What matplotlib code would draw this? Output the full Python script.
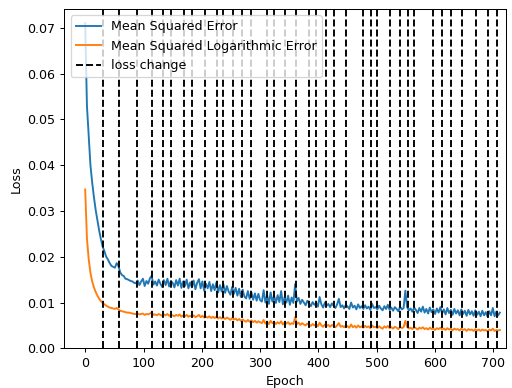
import numpy as np
import matplotlib
matplotlib.use("Agg")
import matplotlib.pyplot as plt

epochs = np.arange(0, 712, 3)

mse = [
    .0710, .0530, .0465, .0400, .0362, .0330, .0302, .0280, .0257, .0238,
    .0222, .0212, .0200, .0194, .0186, .0180, .0178, .0176, .0186, .0180,
    .0166, .0160, .0158, .0152, .0151, .0149, .0147, .0146, .0143, .0142,
    .0148, .0138, .0146, .0152, .0136, .0147, .0141, .0153, .0158, .0139,
    .0146, .0137, .0150, .0141, .0134, .0149, .0138, .0152, .0135, .0147,
    .0143, .0133, .0149, .0137, .0152, .0132, .0146, .0136, .0150, .0131,
    .0144, .0133, .0148, .0129, .0143, .0151, .0131, .0146, .0126, .0141,
    .0131, .0145, .0125, .0140, .0127, .0144, .0122, .0138, .0124, .0140,
    .0121, .0136, .0124, .0117, .0134, .0119, .0132, .0115, .0130, .0112,
    .0128, .0113, .0109, .0125, .0108, .0122, .0106, .0120, .0104, .0119,
    .0105, .0102, .0127, .0100, .0116, .0097, .0122, .0102, .0114, .0099,
    .0116, .0101, .0125, .0096, .0112, .0100, .0115, .0095, .0111, .0099,
    .0140, .0102, .0110, .0097, .0106, .0100, .0094, .0104, .0098, .0092,
    .0101, .0095, .0099, .0091, .0112, .0096, .0089, .0100, .0093, .0097,
    .0090, .0098, .0093, .0088, .0096, .0108, .0090, .0094, .0087, .0095,
    .0091, .0086, .0100, .0089, .0093, .0085, .0096, .0088, .0092, .0086,
    .0094, .0087, .0091, .0084, .0097, .0088, .0090, .0085, .0093, .0087,
    .0083, .0092, .0086, .0095, .0084, .0089, .0082, .0090, .0086, .0081,
    .0091, .0085, .0088, .0126, .0090, .0083, .0087, .0080, .0089, .0084,
    .0077, .0088, .0080, .0091, .0078, .0086, .0076, .0089, .0079, .0085,
    .0075, .0087, .0078, .0090, .0076, .0085, .0074, .0088, .0077, .0084,
    .0073, .0086, .0076, .0083, .0072, .0085, .0075, .0082, .0071, .0084,
    .0074, .0081, .0071, .0083, .0073, .0080, .0070, .0082, .0072, .0079,
    .0069, .0081, .0072, .0088, .0070, .0080, .0072, .0078,
]

msle = [
    .0347, .0240, .0195, .0165, .0146, .0133, .0123, .0115, .0108, .0103,
    .0099, .0096, .0093, .0091, .0089, .0088, .0087, .0086, .0088, .0085,
    .0082, .0081, .0080, .0079, .0078, .0078, .0077, .0076, .0075, .0075,
    .0076, .0074, .0075, .0076, .0073, .0075, .0074, .0076, .0078, .0073,
    .0074, .0072, .0075, .0073, .0071, .0074, .0072, .0075, .0071, .0073,
    .0072, .0070, .0073, .0071, .0074, .0069, .0072, .0070, .0073, .0069,
    .0071, .0069, .0072, .0068, .0070, .0073, .0068, .0071, .0067, .0069,
    .0067, .0070, .0066, .0069, .0066, .0069, .0065, .0068, .0065, .0067,
    .0064, .0067, .0065, .0062, .0066, .0063, .0065, .0061, .0064, .0060,
    .0063, .0060, .0058, .0062, .0058, .0061, .0057, .0060, .0056, .0059,
    .0057, .0055, .0062, .0054, .0058, .0053, .0060, .0055, .0057, .0053,
    .0057, .0054, .0059, .0052, .0056, .0054, .0057, .0052, .0055, .0053,
    .0068, .0053, .0056, .0051, .0055, .0052, .0050, .0054, .0051, .0049,
    .0053, .0050, .0052, .0048, .0056, .0050, .0047, .0052, .0049, .0051,
    .0047, .0051, .0049, .0046, .0050, .0055, .0047, .0049, .0046, .0050,
    .0048, .0045, .0052, .0046, .0049, .0045, .0050, .0046, .0048, .0045,
    .0049, .0046, .0048, .0044, .0050, .0046, .0047, .0044, .0048, .0045,
    .0043, .0048, .0045, .0049, .0044, .0046, .0043, .0047, .0045, .0042,
    .0047, .0044, .0046, .0060, .0047, .0043, .0045, .0042, .0046, .0044,
    .0041, .0045, .0043, .0046, .0042, .0044, .0041, .0045, .0042, .0043,
    .0040, .0044, .0042, .0045, .0041, .0043, .0040, .0044, .0041, .0043,
    .0039, .0043, .0041, .0042, .0039, .0043, .0040, .0042, .0038, .0042,
    .0040, .0041, .0038, .0042, .0039, .0041, .0038, .0041, .0039, .0040,
    .0037, .0041, .0039, .0043, .0038, .0040, .0039, .0040,
]

loss_change_epochs = [30, 58, 89, 114, 134, 147, 170, 184, 205, 226, 237, 254,
                      269, 284, 311, 323, 343, 362, 383, 396, 413, 427, 448,
                      476, 490, 501, 522, 539, 554, 564, 597, 611, 628, 646,
                      670, 691, 707]

DPI = 91
fig = plt.figure(figsize=(512 / DPI, 388 / DPI), dpi=DPI)
ax = fig.add_axes([0.1256, 0.1023, 0.8627, 0.8745])

ax.plot(epochs, mse, color="#1f77b4", label="Mean Squared Error")
ax.plot(epochs, msle, color="#ff7f0e", label="Mean Squared Logarithmic Error")
for i, e in enumerate(loss_change_epochs):
    ax.axvline(e, color="k", linestyle="--", label="loss change" if i == 0 else None)

ax.set_xlim(-35.8, 721.6)
ax.set_ylim(0, 0.0741)
ax.set_xticks([0, 100, 200, 300, 400, 500, 600, 700])
ax.set_xlabel("Epoch")
ax.set_ylabel("Loss")
ax.legend(loc="upper left")

fig.savefig("out.png", dpi=DPI)
